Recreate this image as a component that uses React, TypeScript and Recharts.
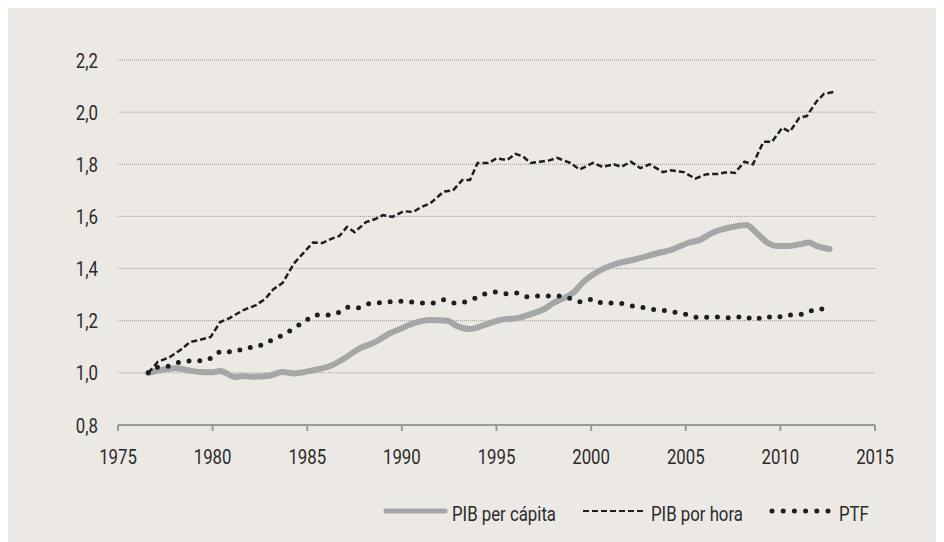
import { CartesianGrid, Legend, Line, LineChart, XAxis, YAxis } from "recharts";

// PIB per cápita
const perCapitaYears = [
  1976.6, 1977.6, 1978.1, 1978.7, 1979.3, 1980.0, 1980.4, 1981.2, 1981.6, 1982.1,
  1982.9, 1983.7, 1984.3, 1985.3, 1986.2, 1986.9, 1987.8, 1988.5, 1989.4, 1989.9,
  1990.6, 1991.5, 1992.4, 1992.9, 1993.6, 1994.5, 1995.2, 1996.1, 1996.8, 1997.5,
  1998.0, 1999.1, 1999.6, 2000.5, 2001.4, 2002.2, 2003.3, 2004.3, 2005.2, 2005.75,
  2006.3, 2006.8, 2007.5, 2008.2, 2008.75, 2009.3, 2009.8, 2010.5, 2011.0, 2011.5,
  2011.9, 2012.6,
];
const perCapitaValues = [
  1.0, 1.015, 1.018, 1.01, 1.003, 1.002, 1.007, 0.984, 0.988, 0.985,
  0.988, 1.003, 0.998, 1.01, 1.026, 1.053, 1.095, 1.115, 1.153, 1.168,
  1.19, 1.203, 1.2, 1.18, 1.168, 1.187, 1.203, 1.21, 1.225, 1.244,
  1.268, 1.31, 1.349, 1.394, 1.42, 1.433, 1.455, 1.474, 1.5, 1.51,
  1.533, 1.548, 1.56, 1.567, 1.536, 1.5, 1.487, 1.487, 1.493, 1.5,
  1.487, 1.475,
];

// PIB por hora
const perHourYears = [
  1976.6, 1977.1, 1977.75, 1978.3, 1978.8, 1979.4, 1979.9, 1980.4, 1980.9, 1981.6,
  1982.3, 1982.8, 1983.2, 1983.7, 1984.3, 1984.8, 1985.3, 1985.8, 1986.3, 1986.7,
  1987.1, 1987.5, 1988.1, 1988.6, 1989.0, 1989.5, 1990.1, 1990.6, 1991.0, 1991.5,
  1992.2, 1992.7, 1993.2, 1993.6, 1994.0, 1994.6, 1995.0, 1995.55, 1996.0, 1996.4,
  1996.8, 1997.3, 1997.8, 1998.2, 1998.9, 1999.4, 2000.1, 2000.6, 2001.2, 2001.6,
  2002.1, 2002.6, 2003.1, 2003.8, 2004.2, 2004.9, 2005.5, 2006.1, 2006.7, 2007.2,
  2007.6, 2008.1, 2008.55, 2009.1, 2009.55, 2010.1, 2010.5, 2011.0, 2011.4, 2011.9,
  2012.3, 2012.8,
];
const perHourValues = [
  1.0, 1.042, 1.061, 1.088, 1.118, 1.128, 1.138, 1.195, 1.21, 1.24,
  1.26, 1.285, 1.32, 1.345, 1.42, 1.46, 1.5, 1.498, 1.515, 1.525,
  1.56, 1.54, 1.578, 1.59, 1.605, 1.598, 1.62, 1.617, 1.635, 1.65,
  1.695, 1.7, 1.74, 1.74, 1.805, 1.805, 1.823, 1.816, 1.84, 1.83,
  1.805, 1.81, 1.815, 1.825, 1.805, 1.78, 1.805, 1.79, 1.8, 1.79,
  1.81, 1.785, 1.8, 1.77, 1.777, 1.77, 1.745, 1.762, 1.763, 1.77,
  1.767, 1.81, 1.8, 1.886, 1.886, 1.94, 1.925, 1.978, 1.985, 2.04,
  2.07, 2.077,
];

// PTF
const tfpYears = [
  1976.6, 1977.1, 1977.75, 1978.3, 1978.9, 1979.5, 1980.0, 1980.5, 1981.1, 1981.7,
  1982.3, 1982.8, 1983.4, 1983.9, 1984.4, 1984.9, 1985.4, 1986.0, 1986.6, 1987.1,
  1987.6, 1988.2, 1988.7, 1989.3, 1989.8, 1990.5, 1991.1, 1991.6, 1992.2, 1992.8,
  1993.3, 1993.9, 1994.4, 1995.0, 1995.55, 1996.1, 1996.7, 1997.2, 1997.8, 1998.4,
  1999.0, 1999.5, 2000.1, 2000.6, 2001.2, 2001.8, 2002.4, 2002.9, 2003.5, 2004.1,
  2004.6, 2005.2, 2005.75, 2006.3, 2006.9, 2007.5, 2008.1, 2008.6, 2009.2, 2009.7,
  2010.3, 2010.8, 2011.4, 2011.9, 2012.5,
];
const tfpValues = [
  1.0, 1.022, 1.027, 1.042, 1.046, 1.046, 1.06, 1.084, 1.08, 1.095,
  1.099, 1.115, 1.134, 1.153, 1.176, 1.199, 1.222, 1.222, 1.23, 1.252,
  1.249, 1.264, 1.268, 1.272, 1.275, 1.272, 1.268, 1.268, 1.28, 1.268,
  1.272, 1.287, 1.303, 1.31, 1.303, 1.306, 1.291, 1.295, 1.295, 1.295,
  1.283, 1.272, 1.283, 1.268, 1.268, 1.264, 1.253, 1.249, 1.241, 1.237,
  1.23, 1.222, 1.21, 1.214, 1.214, 1.21, 1.218, 1.203, 1.218, 1.21,
  1.222, 1.222, 1.23, 1.245, 1.245,
];

const xTicks = [1975, 1980, 1985, 1990, 1995, 2000, 2005, 2010, 2015];
const yTicks = [0.8, 1.0, 1.2, 1.4, 1.6, 1.8, 2.0, 2.2];

const perCapitaData = perCapitaYears.map((year, i) => ({ year, value: perCapitaValues[i] }));
const perHourData = perHourYears.map((year, i) => ({ year, value: perHourValues[i] }));
const tfpData = tfpYears.map((year, i) => ({ year, value: tfpValues[i] }));

const FONT = "Roboto, sans-serif";
const TEXT = "#2b2b2b";
const GRAY = "#a6a6a6";
const DARK = "#1e1e1e";

// the original uses a condensed face, so squeeze the text horizontally
function Condensed({ x, y, anchor, children }: any) {
  return (
    <text
      transform={`translate(${x},${y}) scale(0.8,1)`}
      textAnchor={anchor}
      fontFamily={FONT}
      fontSize={21}
      fill={TEXT}
    >
      {children}
    </text>
  );
}

const XTick = ({ x, y, payload }: any) => (
  <Condensed x={x} y={y + 14} anchor="middle">{payload.value}</Condensed>
);

const YTick = ({ x, y, payload }: any) => (
  <Condensed x={x} y={y + 7.5} anchor="end">
    {payload.value.toFixed(1).replace(".", ",")}
  </Condensed>
);

function ChartLegend() {
  return (
    <svg width={520} height={40}>
      <line x1={10} x2={69} y1={18} y2={18} stroke={GRAY} strokeWidth={5} strokeLinecap="round" />
      <Condensed x={76} y={28} anchor="start">PIB per cápita</Condensed>
      <line x1={207} x2={268} y1={18} y2={18} stroke={DARK} strokeWidth={2} strokeDasharray="6 3" />
      <Condensed x={275} y={28} anchor="start">PIB por hora</Condensed>
      <line x1={396} x2={452} y1={18} y2={18} stroke={DARK} strokeWidth={5} strokeDasharray="0 11.2" strokeLinecap="round" />
      <Condensed x={463} y={28} anchor="start">PTF</Condensed>
    </svg>
  );
}

export default function App() {
  return (
    <div style={{ width: 936, height: 534, background: "#ece8e4" }}>
      <LineChart width={936} height={534} margin={{ top: 52, right: 69, left: 0, bottom: 17 }}>
        <CartesianGrid vertical={false} stroke="#9c9c9c" strokeDasharray="1 1" />
        <XAxis
          type="number"
          dataKey="year"
          domain={[1975, 2015]}
          ticks={xTicks}
          allowDataOverflow
          axisLine={{ stroke: "#9a9a9a", strokeWidth: 2 }}
          tickLine={{ stroke: "#9a9a9a", strokeWidth: 2 }}
          tickSize={6}
          tickMargin={19}
          tick={<XTick />}
          height={60}
        />
        <YAxis
          type="number"
          domain={[0.8, 2.2]}
          ticks={yTicks}
          width={110}
          axisLine={false}
          tickLine={false}
          tickSize={0}
          tickMargin={20}
          tick={<YTick />}
        />
        <Line
          data={perCapitaData}
          dataKey="value"
          type="monotone"
          stroke={GRAY}
          strokeWidth={6}
          strokeLinecap="round"
          dot={false}
          isAnimationActive={false}
        />
        <Line
          data={perHourData}
          dataKey="value"
          type="linear"
          stroke={DARK}
          strokeWidth={2.5}
          strokeDasharray="6 3"
          dot={false}
          isAnimationActive={false}
        />
        <Line
          data={tfpData}
          dataKey="value"
          type="monotone"
          stroke={DARK}
          strokeWidth={5}
          strokeDasharray="0 10.8"
          strokeLinecap="round"
          dot={false}
          isAnimationActive={false}
        />
        <Legend
          content={() => <ChartLegend />}
          wrapperStyle={{ position: "absolute", left: 368, top: 485, width: 520, height: 40 }}
        />
      </LineChart>
    </div>
  );
}
